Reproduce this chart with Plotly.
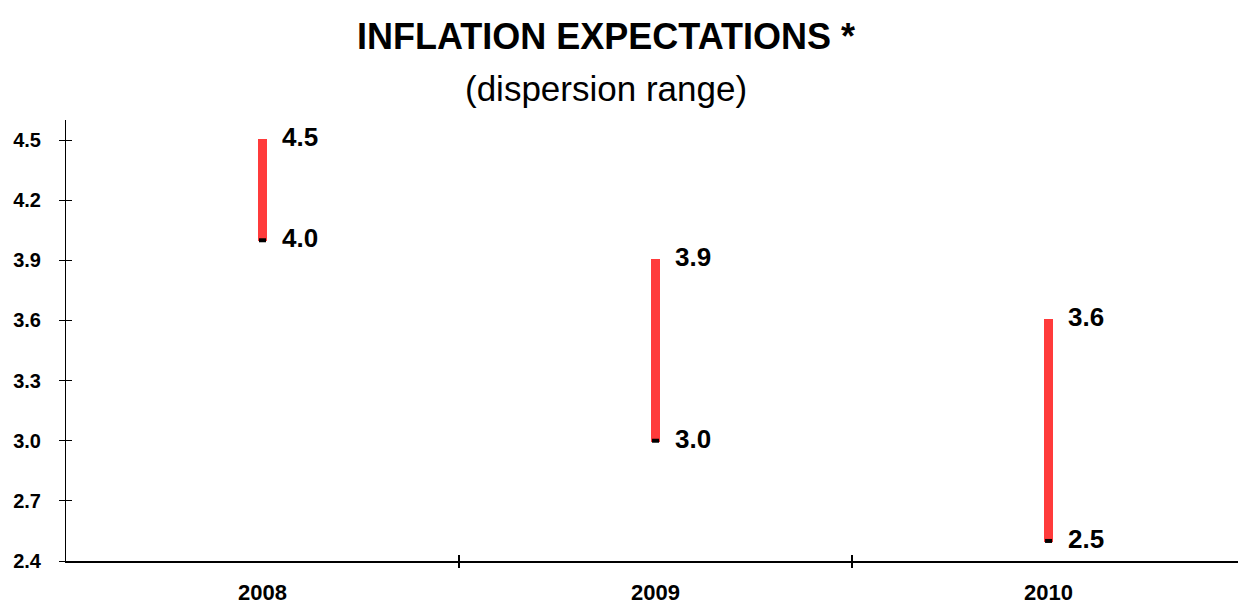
import plotly.graph_objects as go

years = ["2008", "2009", "2010"]
low = [4.0, 3.0, 2.5]
high = [4.5, 3.9, 3.6]
ytick_vals = [2.4, 2.7, 3.0, 3.3, 3.6, 3.9, 4.2, 4.5]

xpos = list(range(len(years)))
FONT = "Liberation Sans, Arial, sans-serif"

fig = go.Figure()
fig.add_trace(go.Bar(
    x=xpos, base=low, y=[h - l for h, l in zip(high, low)],
    width=0.016, marker=dict(color="#ff3b3b", line=dict(width=2, color="#ff3b3b")),
    showlegend=False, hoverinfo="skip"))
fig.add_trace(go.Scatter(
    x=xpos, y=low, mode="markers",
    marker=dict(symbol="line-ew", size=5, color="black",
                line=dict(width=4, color="black")),
    showlegend=False, hoverinfo="skip"))

annotations = []
for xi, lo, hi in zip(xpos, low, high):
    for v, ys in ((hi, 3), (lo, 2)):
        annotations.append(dict(
            x=xi, y=v, xref="x", yref="y", text=f"{v:.1f}",
            showarrow=False, xanchor="left", yanchor="middle",
            xshift=17, yshift=ys,
            font=dict(family=FONT, size=26, color="black", weight="bold")))

TX = (606 - 66) / 1172
annotations.append(dict(
    x=TX, y=1.0, xref="paper", yref="paper", xanchor="center", yanchor="middle",
    yshift=84, showarrow=False, text="<b>INFLATION EXPECTATIONS *</b>",
    font=dict(family=FONT, size=36, color="black")))
annotations.append(dict(
    x=TX, y=1.0, xref="paper", yref="paper", xanchor="center", yanchor="middle",
    yshift=32, showarrow=False, text="(dispersion range)",
    font=dict(family=FONT, size=35, color="black")))

xr = [-0.5, 2.482]
yr = [2.4, 4.6]

fig.update_layout(
    width=1238, height=605,
    margin=dict(l=66, r=0, t=120, b=44),
    paper_bgcolor="white", plot_bgcolor="white",
    annotations=annotations,
    bargap=0,
    xaxis=dict(range=xr, tickvals=xpos, ticktext=years, ticks="",
               showgrid=False, zeroline=False, showline=True,
               linecolor="black", linewidth=2, ticklabelstandoff=11,
               tickfont=dict(family=FONT, size=22, color="black", weight="bold")),
    xaxis2=dict(range=xr, overlaying="x", tickvals=[0.5, 1.5], ticks="outside",
                ticklen=6, tickwidth=1.5, tickcolor="black", showticklabels=False,
                showgrid=False, zeroline=False, showline=False),
    xaxis3=dict(range=xr, overlaying="x", tickvals=[-0.5, 0.5, 1.5], ticks="inside",
                ticklen=6, tickwidth=1.5, tickcolor="black", showticklabels=False,
                showgrid=False, zeroline=False, showline=False),
    yaxis=dict(range=yr, tickvals=ytick_vals, tickformat=".1f", ticks="outside",
               ticklen=6, tickwidth=1, tickcolor="black",
               showgrid=False, zeroline=False, showline=True,
               linecolor="black", linewidth=1, ticklabelstandoff=14,
               tickfont=dict(family=FONT, size=20, color="black", weight="bold")),
    yaxis2=dict(range=yr, overlaying="y", tickvals=ytick_vals, ticks="inside",
                ticklen=6, tickwidth=1, tickcolor="black", showticklabels=False,
                showgrid=False, zeroline=False, showline=False),
)
# dummy traces to activate the overlay axes
fig.add_trace(go.Scatter(x=[None], y=[None], xaxis="x2", yaxis="y2",
                         showlegend=False, hoverinfo="skip"))
fig.add_trace(go.Scatter(x=[None], y=[None], xaxis="x3", yaxis="y2",
                         showlegend=False, hoverinfo="skip"))

fig.write_html("out.html", config={"displayModeBar": False},
               post_script="document.body.style.margin='0';document.body.style.overflow='hidden';")
